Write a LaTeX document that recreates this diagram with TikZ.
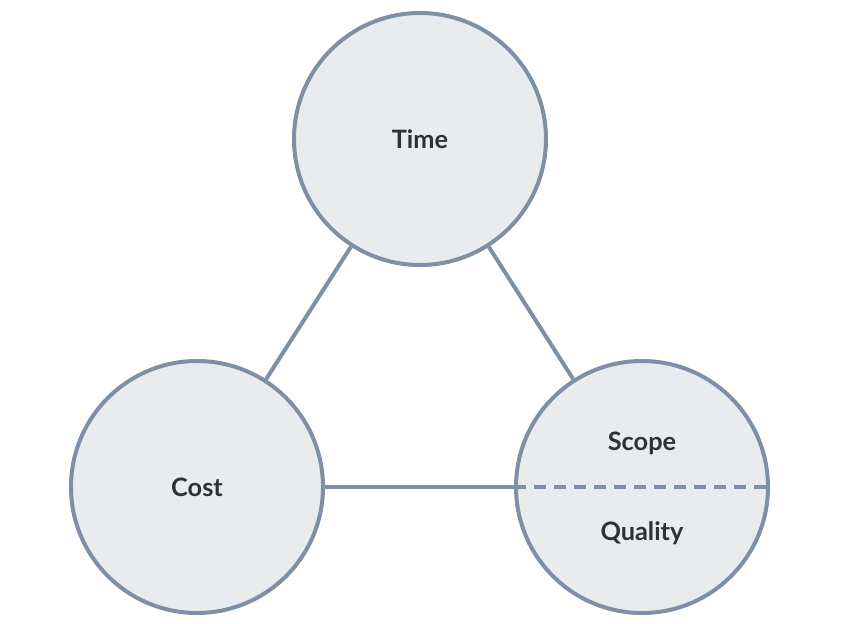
\documentclass[tikz,border=0pt]{standalone}
\usepackage{fontspec}
\setmainfont{Lato}
\definecolor{ringcol}{HTML}{7F90A6}
\definecolor{fillcol}{HTML}{E8ECEF}
\definecolor{textcol}{HTML}{2D3238}
\tikzset{
  ring/.style={circle,draw=ringcol,fill=fillcol,line width=3pt,minimum size=189pt,inner sep=0pt},
  label/.style={text=textcol,font=\bfseries\fontsize{19}{23}\selectfont},
  link/.style={draw=ringcol,line width=3pt}
}
\begin{document}
\begin{tikzpicture}[x=0.75pt,y=-0.75pt]
		\useasboundingbox (0,0) rectangle (860,624);

		\node[ring] (time) at (420,139) {};
		\node[ring] (cost) at (197,487) {};
		\node[ring] (sq) at (642,487) {};

		\node[label] at (time) {Time};
		\node[label] at (cost) {Cost};
		\node[label] (scope) at (642,443) {Scope};
		\node[label] (quality) at (642,533) {Quality};

		\draw[link] (time) -- (cost);
		\draw[link] (time) -- (sq);
		\draw[link] (cost.east) -- (sq.west);
		\draw[link,dash pattern=on 9pt off 6pt] (sq.west) -- (sq.east);
	\end{tikzpicture}
\end{document}
